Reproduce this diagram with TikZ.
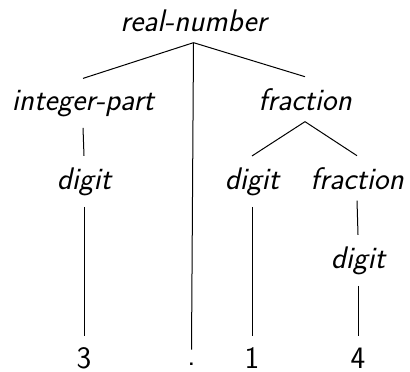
\documentclass[tikz,border=0pt]{standalone}
\usepackage{tikz}

\begin{document}
\begin{tikzpicture}[x=0.5pt,y=-0.5pt,
        nt/.style={anchor=base,inner xsep=0pt,inner ysep=5.5pt,font=\fontsize{15.6}{18}\selectfont\sffamily\itshape},
        tm/.style={anchor=base,inner xsep=0pt,inner ysep=5.5pt,font=\fontsize{15.6}{18}\selectfont\sffamily},
        edge/.style={line width=0.5pt}]
        \useasboundingbox (0,0) rectangle (410,371);
        \node[nt] (real) at (193.5,31) {real-number};
        \node[nt] (intpart) at (83,110) {integer-part};
        \node[nt] (frac) at (305,110) {fraction};
        \node[nt] (digA) at (84,189) {digit};
        \node[nt] (digB) at (252,189) {digit};
        \node[nt] (fracB) at (357,189) {fraction};
        \node[nt] (digC) at (358,268) {digit};
        \node[tm] (three) at (84,368) {3};
        \node[tm,text height=2pt] (dot) at (191.5,365) {.};
        \node[tm] (one) at (252,368) {1};
        \node[tm] (four) at (358,368) {4};
        \draw[edge] (real.south) -- (intpart.north);
        \draw[edge] (real.south) -- (dot.north);
        \draw[edge] (real.south) -- (frac.north);
        \draw[edge] (intpart.south) -- (digA.north);
        \draw[edge] (digA.south) -- (three.north);
        \draw[edge] (frac.south) -- (digB.north);
        \draw[edge] (frac.south) -- (fracB.north);
        \draw[edge] (digB.south) -- (one.north);
        \draw[edge] (fracB.south) -- (digC.north);
        \draw[edge] (digC.south) -- (four.north);
    \end{tikzpicture}
\end{document}
